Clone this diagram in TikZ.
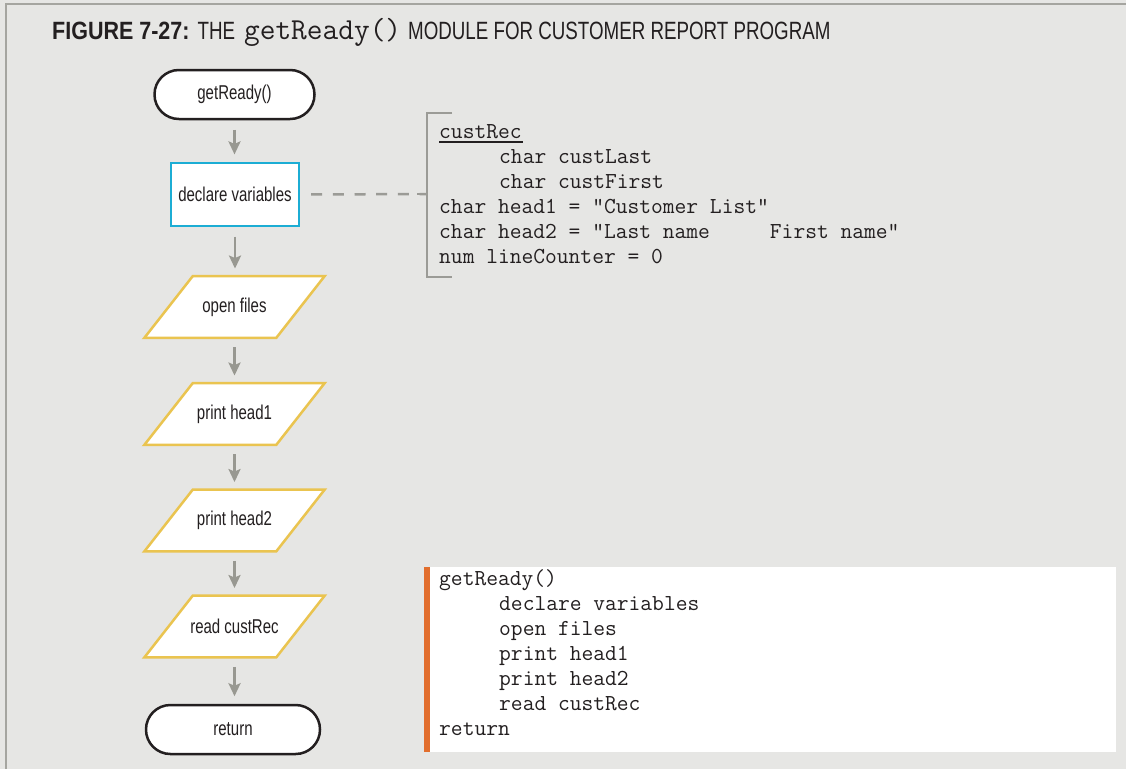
\documentclass[tikz,border=0pt]{standalone}
\usepackage{fontspec}
\setmainfont{Liberation Sans}
\newfontfamily\condfont[FakeStretch=0.75]{Liberation Sans}
\newfontfamily\condbfont[FakeStretch=0.86]{Liberation Sans Bold}
\newcommand{\codefont}{\ttfamily}
\usetikzlibrary{arrows.meta}

\definecolor{bggray}{RGB}{230,230,228}
\definecolor{framegray}{RGB}{165,165,160}
\definecolor{ink}{RGB}{35,31,32}
\definecolor{cyanline}{RGB}{28,173,212}
\definecolor{yellowline}{RGB}{234,196,80}
\definecolor{arrowgray}{RGB}{152,152,145}
\definecolor{dashgray}{RGB}{155,155,150}
\definecolor{barorange}{RGB}{226,110,45}

\pgfdeclarelayer{back}
\pgfdeclarelayer{mid}
\pgfsetlayers{back,mid,main}

\newcommand{\nodefont}{\condfont\fontsize{20}{24}\selectfont}
\newcommand{\codesize}{\codefont\fontsize{22.86}{25}\selectfont}
\newcommand{\ind}{\hspace*{60pt}}

\tikzset{
  term/.style={draw=ink, line width=2.5pt, fill=white, rounded corners=24.4pt,
    minimum height=49pt, inner sep=0pt, font=\nodefont, text=ink},
  procbox/.style={draw=cyanline, line width=2.2pt, fill=white,
    minimum width=128pt, minimum height=63pt, inner sep=0pt, font=\nodefont, text=ink},
  iobox/.style={minimum width=131.5pt, minimum height=61.5pt, inner sep=0pt,
    font=\nodefont, text=ink},
  ioshape/.style={draw=yellowline, line width=2.5pt, fill=white, line join=miter},
  flow/.style={draw=arrowgray, line width=2.5pt,
    -{Stealth[length=13pt,width=12pt,inset=2.5pt]},
    shorten <=9.5pt, shorten >=7.5pt},
  dashline/.style={draw=dashgray, line width=2.5pt, dash pattern=on 11pt off 10.7pt},
  brkline/.style={draw=dashgray, line width=2.5pt},
  codeline/.style={anchor=base west, inner sep=0pt, font=\codesize, text=ink},
}

\begin{document}
\begin{tikzpicture}[x=1pt,y=-1pt]
  \useasboundingbox (0,0) rectangle (1126,769);
  \begin{pgfonlayer}{back}
    \fill[bggray] (0,0) rectangle (1126,769);
    \draw[framegray, line width=2pt] (6,769) -- (6,4) -- (1126,4);
  \end{pgfonlayer}

  % caption
  \node[anchor=base west, inner sep=0pt, text=ink] (title) at (52,39)
    {{\condbfont\fontsize{25}{30}\selectfont FIGURE 7-27:}\hspace{8pt}%
     {\condfont\fontsize{25}{30}\selectfont THE}\hspace{9pt}%
     {\codefont\fontsize{30.5}{30}\selectfont getReady()}\hspace{7pt}%
     {\condfont\fontsize{25}{30}\selectfont MODULE FOR CUSTOMER REPORT PROGRAM}};

  % flowchart
  \node[term, minimum width=160pt] (start) at (234.5,94.5) {getReady()};
  \node[procbox] (decl) at (235,194.5) {declare variables};
  \node[iobox] (open) at (234.5,307) {open files};
  \node[iobox] (head1) at (234.5,414) {print head1};
  \node[iobox] (head2) at (234.5,520.5) {print head2};
  \node[iobox] (read) at (234.5,626.5) {read custRec};
  \node[term, minimum width=174pt] (ret) at (233,729.5) {return};

  \begin{pgfonlayer}{mid}
    \foreach \n in {open,head1,head2,read}
      \draw[ioshape] ([xshift=24.25pt]\n.north west) -- ([xshift=24.25pt]\n.north east)
        -- ([xshift=-24.25pt]\n.south east) -- ([xshift=-24.25pt]\n.south west) -- cycle;
  \end{pgfonlayer}

  \draw[flow] (start.south) -- (start.south |- decl.north);
  \draw[flow] (decl.south) -- (decl.south |- open.north);
  \draw[flow] (open) -- (head1);
  \draw[flow] (head1) -- (head2);
  \draw[flow] (head2) -- (read);
  \draw[flow] (read.south) -- (read.south |- ret.north);

  % declarations annotation
  \coordinate (brk) at (427,194);
  \draw[brkline] (452,113) -- (427,113) -- (427,277) -- (452,277);
  \draw[brkline] (417,194) -- (brk);
  \draw[dashline, shorten <=11pt] (decl.east) -- (brk);

  \node[codeline] (d1) at (439,138) {\rlap{\rule[-5pt]{84pt}{2pt}}custRec};
  \node[codeline] (d2) at (439,163) {\ind char custLast};
  \node[codeline] (d3) at (439,188) {\ind char custFirst};
  \node[codeline] (d4) at (439,213) {char head1 = "Customer List"};
  \node[codeline] (d5) at (439,238) {char head2 = "Last name\hspace*{60pt}First name"};
  \node[codeline] (d6) at (439,263) {num lineCounter = 0};

  % pseudocode panel
  \fill[white] (424,567) rectangle (1116,752);
  \fill[barorange] (424,567) rectangle (430,752);
  \node[codeline] (p1) at (439,585) {getReady()};
  \node[codeline] (p2) at (439,610) {\ind declare variables};
  \node[codeline] (p3) at (439,635) {\ind open files};
  \node[codeline] (p4) at (439,660) {\ind print head1};
  \node[codeline] (p5) at (439,685) {\ind print head2};
  \node[codeline] (p6) at (439,710) {\ind read custRec};
  \node[codeline] (p7) at (439,735) {return};
\end{tikzpicture}
\end{document}
